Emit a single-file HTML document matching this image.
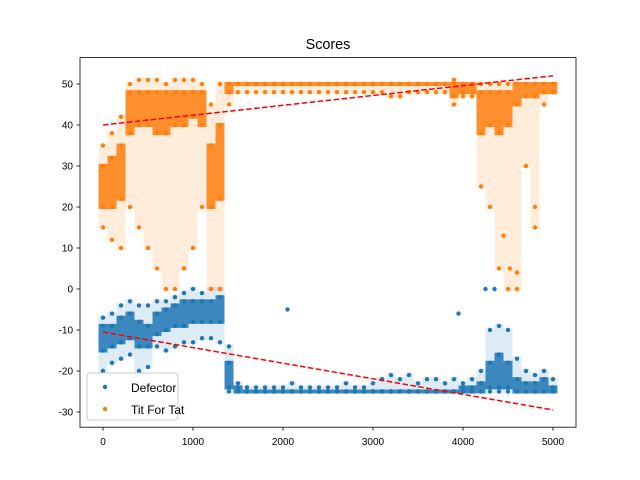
<!DOCTYPE html>
<html><head><meta charset="utf-8"><style>
body{margin:0;background:#fff}
svg{display:block;font-family:"Liberation Sans","DejaVu Sans",sans-serif}
</style></head><body>
<svg id="chart" width="640" height="480">
<rect width="640" height="480" fill="#fff"/>
<text x="328" y="49" text-anchor="middle" font-size="14.4">Scores</text>
<g id="marks"></g>
<rect x="80" y="57.6" width="496" height="369.6" fill="none" stroke="#000" stroke-width="0.8"/>
<g id="axes"></g>
<g>
<rect x="87" y="373" width="91" height="47" rx="3" fill="#fff" fill-opacity="0.8" stroke="#ccc"/>
<circle cx="105" cy="387" r="2.2" fill="#1f77b4"/>
<text x="131" y="392" font-size="12">Defector</text>
<circle cx="105" cy="409" r="2.2" fill="#ff7f0e"/>
<text x="131" y="414" font-size="12">Tit For Tat</text>
</g>
</svg>
<script>
const xs=[0,100,200,300,400,500,600,700,800,900,1000,1100,1200,1300,1400,1500,1600,1700,1800,1900,2000,2100,2200,2300,2400,2500,2600,2700,2800,2900,3000,3100,3200,3300,3400,3500,3600,3700,3800,3900,4000,4100,4200,4300,4400,4500,4600,4700,4800,4900,5000];
const defLo=[-20,-18,-17,-16,-20,-19,-14,-15,-14,-13,-13,-12,-12,-13,-25,-25,-25,-25,-25,-25,-25,-25,-25,-25,-25,-25,-25,-25,-25,-25,-25,-25,-25,-25,-25,-25,-25,-25,-25,-25,-25,-25,-25,-25,-25,-25,-25,-25,-25,-25,-25];
const defQ1=[-15,-14,-13,-12,-14,-14,-11,-10,-9,-9,-8,-8,-8,-8,-24,-25,-25,-25,-25,-25,-25,-25,-25,-25,-25,-25,-25,-25,-25,-25,-25,-25,-25,-25,-25,-25,-25,-25,-25,-25,-25,-25,-25,-24,-24,-24,-25,-25,-25,-25,-25];
const defQ3=[-9,-9,-7,-6,-8,-9,-6,-5,-4,-3,-3,-3,-3,-2,-18,-24,-25,-25,-25,-25,-25,-25,-25,-25,-25,-25,-25,-25,-25,-25,-25,-25,-25,-25,-25,-25,-25,-25,-25,-25,-24,-24,-23,-18,-16,-18,-22,-23,-23,-22,-24];
const defHi=[-7,-6,-4,-3,-4,-4,-3,-3,-2,-1,0,-1,0,0,-14,-23,-24,-24,-24,-24,-24,-23,-24,-24,-24,-24,-24,-23,-24,-24,-23,-22,-21,-22,-21,-23,-22,-22,-23,-22,-23,-22,-20,-10,-9,-10,-17,-20,-21,-20,-22];
const tftLo=[15,12,10,20,15,10,5,0,0,5,10,20,0,0,45,48,48,48,48,48,48,48,48,48,48,48,48,48,48,48,48,48,47,47,48,48,48,48,48,45,47,47,25,20,5,0,0,30,15,45,48];
const tftQ1=[20,20,22,38,40,40,38,38,40,40,42,40,20,22,48,50,50,50,50,50,50,50,50,50,50,50,50,50,50,50,50,50,50,50,50,50,50,50,50,47,48,48,38,40,38,40,45,47,47,48,48];
const tftQ3=[30,32,35,48,48,48,48,48,48,48,48,48,35,40,50,50,50,50,50,50,50,50,50,50,50,50,50,50,50,50,50,50,50,50,50,50,50,50,50,50,50,50,48,48,48,48,50,50,50,50,50];
const tftHi=[35,38,42,50,51,51,51,50,51,51,51,50,45,50,50,50,50,50,50,50,50,50,50,50,50,50,50,50,50,50,50,50,50,50,50,50,50,50,50,51,50,50,50,50,50,50,50,50,50,50,50];
const defOutX=[2050,3950,4250,4350];
const defOutY=[-5,-6,0,0];
const tftOutX=[4450,4520,4600,4800];
const tftOutY=[13,5,4,20];
const trendX=[0,5000];
const defTrend=[-10.5,-29.5];
const tftTrend=[40,52];
const xTicks=[0,1000,2000,3000,4000,5000];
const yTicks=[-30,-20,-10,0,10,20,30,40,50];

const X=v=>103+v*0.09;
const Y=v=>84+(50-v)*4.1;
const NS="http://www.w3.org/2000/svg";
const marks=document.getElementById('marks');
const axes=document.getElementById('axes');
function mk(tag,attrs,parent){const e=document.createElementNS(NS,tag);for(const k in attrs)e.setAttribute(k,attrs[k]);parent.appendChild(e);return e;}

function series(name,color,lo,q1,q3,hi,ox,oy){
  const g=mk('g',{},marks);
  
  
  xs.forEach((x,i)=>{
    const r1=mk('rect',{x:X(x)-4.5,y:Y(hi[i])-2,width:9,height:Y(lo[i])-Y(hi[i])+4,fill:color,'fill-opacity':0.15},g);
    
    
    const r2=mk('rect',{x:X(x)-4.5,y:Y(q3[i])-2,width:9,height:Y(q1[i])-Y(q3[i])+4,fill:color,'fill-opacity':0.85},g);
    
    
    [lo[i],q1[i],q3[i],hi[i]].forEach(v=>{
      const c=mk('circle',{cx:X(x),cy:Y(v),r:2.2,fill:color},g);
      
      
    });
  });
  ox.forEach((x,i)=>{
    const c=mk('circle',{cx:X(x),cy:Y(oy[i]),r:2.2,fill:color},g);
    
    
  });
}
series('defector','#1f77b4',defLo,defQ1,defQ3,defHi,defOutX,defOutY);
series('tit-for-tat','#ff7f0e',tftLo,tftQ1,tftQ3,tftHi,tftOutX,tftOutY);
[[defTrend,'defector-trend-line'],[tftTrend,'tft-trend-line']].forEach(([t,n])=>{
  const l=mk('line',{x1:X(trendX[0]),y1:Y(t[0]),x2:X(trendX[1]),y2:Y(t[1]),stroke:'#ff0000','stroke-width':1.5,'stroke-dasharray':'5.5,2.5'},marks);
  
  
});
xTicks.forEach(v=>{
  const l=mk('line',{x1:X(v),x2:X(v),y1:427.2,y2:430.7,stroke:'#000','stroke-width':0.8},axes);
  
  
  const t=mk('text',{x:X(v),y:445,'text-anchor':'middle','font-size':10},axes);
  t.textContent=v;
  
  
});
yTicks.forEach(v=>{
  const l=mk('line',{x1:76.5,x2:80,y1:Y(v),y2:Y(v),stroke:'#000','stroke-width':0.8},axes);
  
  
  const t=mk('text',{x:73,y:Y(v)+3.5,'text-anchor':'end','font-size':10},axes);
  t.textContent=v;
  
  
});
</script>
</body></html>
